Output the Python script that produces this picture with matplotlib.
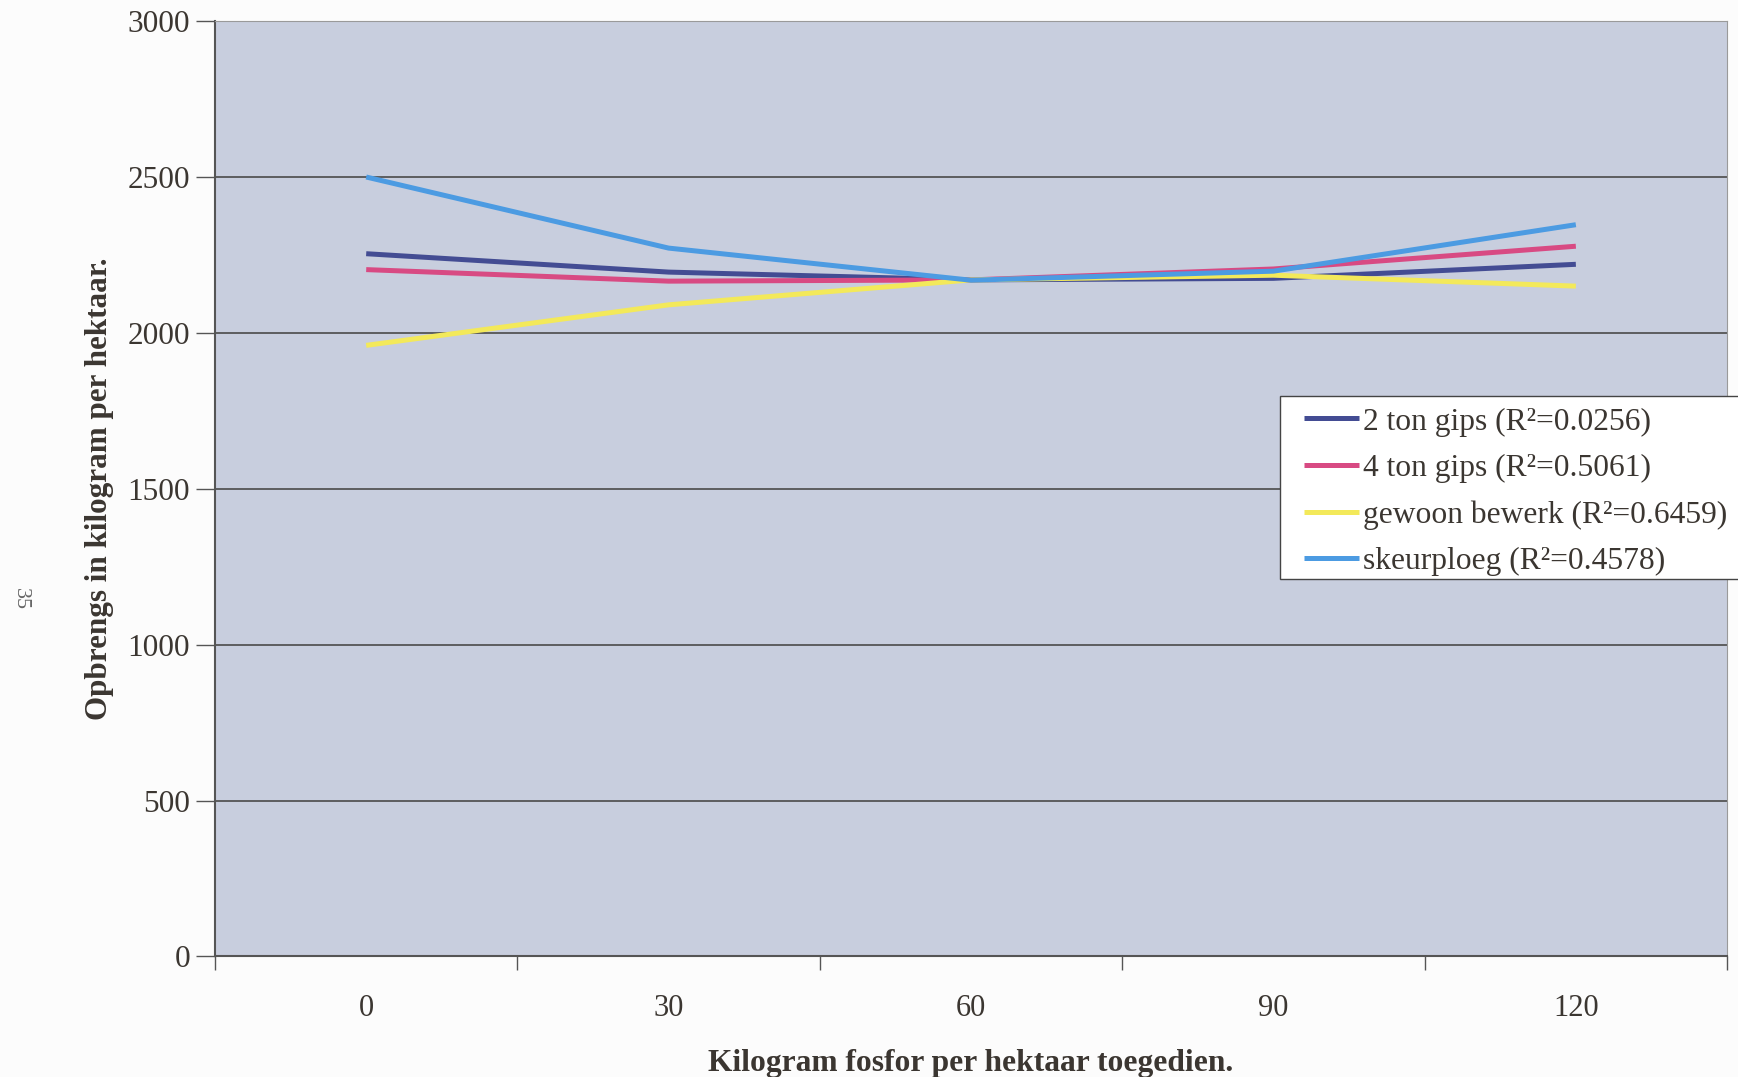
import matplotlib.pyplot as plt
from matplotlib.patches import Rectangle

# fosfor toegedien (kg/ha) en opbrengs per behandeling
fosfor = ["0", "30", "60", "90", "120"]
twee_ton_gips = [2254, 2195, 2170, 2175, 2220]
vier_ton_gips = [2203, 2166, 2170, 2205, 2278]
gewoon_bewerk = [1960, 2090, 2170, 2185, 2150]
skeurploeg = [2500, 2272, 2169, 2198, 2347]

labels = ["2 ton gips (R\u00b2=0.0256)", "4 ton gips (R\u00b2=0.5061)",
          "gewoon bewerk (R\u00b2=0.6459)", "skeurploeg (R\u00b2=0.4578)"]
colours = ["#434C93", "#D84A83", "#F3E95A", "#4C9BE2"]
yticks = [0, 500, 1000, 1500, 2000, 2500, 3000]

plt.rcParams["font.family"] = ["Liberation Serif", "DejaVu Serif"]
txt = "#3b3631"

fig = plt.figure(figsize=(17.38, 10.77), dpi=100, facecolor="#fcfcfc")
ax = fig.add_axes([0.1237, 0.1119, 0.8700, 0.8685])
ax.set_facecolor("#C8CEDE")

x = list(range(len(fosfor)))
for vals, lab, col in zip([twee_ton_gips, vier_ton_gips, gewoon_bewerk, skeurploeg], labels, colours):
    ax.plot(x, vals, color=col, lw=3.6, label=lab, solid_capstyle="butt", zorder=3)

ax.set_xlim(-0.5, len(fosfor) - 0.5)
ax.set_ylim(0, 3000)
ax.set_yticks(yticks)
ax.set_yticklabels([str(v) for v in yticks], fontsize=22.5, color=txt)
ax.yaxis.grid(True, color="#4a4a4a", lw=1.2)
ax.set_axisbelow(True)
ax.tick_params(axis="y", length=14, width=1, color="#555555", pad=4)

# category axis: ticks on boundaries, labels in the middle
ax.set_xticks([i - 0.5 for i in range(len(fosfor) + 1)])
ax.set_xticklabels([])
ax.set_xticks(x, minor=True)
ax.set_xticklabels(fosfor, minor=True, fontsize=22, color=txt)
ax.tick_params(axis="x", which="major", length=10, width=1, color="#555555")
ax.tick_params(axis="x", which="minor", length=0, pad=27)

for side in ["left", "bottom"]:
    ax.spines[side].set_color("#555555")
    ax.spines[side].set_linewidth(1.5)
for side in ["top", "right"]:
    ax.spines[side].set_color("#9a9a9a")

ax.set_ylabel("Opbrengs in kilogram per hektaar.", fontsize=22.4, fontweight="bold", color=txt, va="center")
ax.yaxis.set_label_coords(-0.0765, 0.5)
ax.set_xlabel("Kilogram fosfor per hektaar toegedien.", fontsize=22.7, fontweight="bold", color=txt, va="center")
ax.xaxis.set_label_coords(0.5, -0.114)

# legend box runs off the right edge of the page in the scan
box = Rectangle((0.7365, 0.4628), 0.3, 0.1699, transform=fig.transFigure, clip_on=False,
                facecolor="white", edgecolor="#444444", lw=1.0, zorder=4)
ax.add_patch(box)
leg = ax.legend(loc="upper left", bbox_to_anchor=(0.7450, 0.6305), bbox_transform=fig.transFigure,
                fontsize=22.7, frameon=False, handlelength=1.75, handletextpad=0.12,
                labelspacing=0.55, borderpad=0.3, borderaxespad=0)
leg.set_zorder(5)
for t in leg.get_texts():
    t.set_color(txt)

# page number of the scanned report
fig.text(0.012, 0.444, "35", rotation=-90, fontsize=16, color="#666666", ha="center", va="center")

fig.savefig("out.png", dpi=100, facecolor=fig.get_facecolor())
